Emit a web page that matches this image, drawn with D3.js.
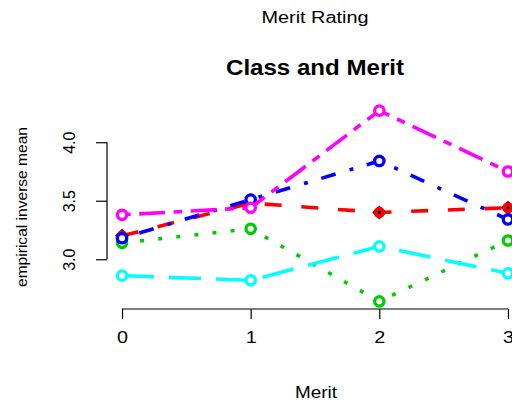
<!DOCTYPE html>
<html>
<head>
<meta charset="utf-8">
<script src="https://cdn.jsdelivr.net/npm/d3@7"></script>
<style>
  html, body { margin: 0; padding: 0; background: #fff; overflow: hidden; }
  text { font-family: "Liberation Sans", Arial, Helvetica, sans-serif; fill: #000; }
</style>
</head>
<body>
<script>
// ---- data ----
const merit = [0, 1, 2, 3];
const xTickLabels = ["0", "1", "2", "3"];
const yTickValues = [3.0, 3.5, 4.0];
const seriesNames = ["red", "green", "cyan", "blue", "magenta"];
const seriesRed     = [3.20, 3.48, 3.40, 3.44];
const seriesGreen   = [3.14, 3.26, 2.64, 3.16];
const seriesCyan    = [2.86, 2.82, 3.11, 2.88];
const seriesBlue    = [3.18, 3.51, 3.84, 3.34];
const seriesMagenta = [3.38, 3.44, 4.27, 3.75];

const series = [
  { name: "red",     values: seriesRed,     color: "#FF0000", dash: "17 19.7",          marker: "diamond" },
  { name: "green",   values: seriesGreen,   color: "#00CD00", dash: "4 14.2",           marker: "circle" },
  { name: "cyan",    values: seriesCyan,    color: "#00FFFF", dash: "32 15",            marker: "circle" },
  { name: "blue",    values: seriesBlue,    color: "#0000FF", dash: "4 14 15 14.5",     marker: "circle" },
  { name: "magenta", values: seriesMagenta, color: "#FF00FF", dash: "8.6 8.6 25.8 8.6", marker: "circle" }
];

const W = 512, H = 404;
const svg = d3.select("body").append("svg").attr("width", W).attr("height", H);

// plot region (R-style 4% padding)
const allVals = series.flatMap(s => s.values);
const ymin = d3.min(allVals), ymax = d3.max(allVals);
const ypad = (ymax - ymin) * 0.04;
const x = d3.scaleLinear().domain([-0.12, 3.12]).range([106.6, 523.4]);
const y = d3.scaleLinear().domain([ymin - ypad, ymax + ypad]).range([309, 103]);

// y axis
const yAxis = svg.append("g").attr("transform", "translate(107,0)")
  .call(d3.axisLeft(y).tickValues(yTickValues).tickSize(11).tickSizeOuter(0).tickFormat(d3.format(".1f")));
yAxis.select(".domain").attr("d", `M0,${y(3.0)}V${y(4.0)}`).attr("stroke", "#000").attr("stroke-width", 1.2);
yAxis.selectAll(".tick line").attr("stroke", "#000").attr("stroke-width", 1.2);
yAxis.selectAll(".tick text")
  .attr("x", null).attr("dy", null).attr("y", 0)
  .attr("transform", "translate(-32,0) rotate(-90)")
  .attr("text-anchor", "middle")
  .style("font-size", "16px")
  .style("font-family", "'Liberation Sans', Arial, sans-serif")
  .attr("fill", "#000");

// x axis
const xAxis = svg.append("g").attr("transform", "translate(0,309)")
  .call(d3.axisBottom(x).tickValues(merit).tickSize(10).tickSizeOuter(0).tickFormat((d, i) => xTickLabels[i]));
xAxis.select(".domain").attr("d", `M${x(0)},0H${x(3)}`).attr("stroke", "#000").attr("stroke-width", 1.2);
xAxis.selectAll(".tick line").attr("stroke", "#000").attr("stroke-width", 1.2);
xAxis.selectAll(".tick text")
  .attr("y", 34).attr("dy", null)
  .attr("text-anchor", "middle")
  .attr("textLength", 11).attr("lengthAdjust", "spacingAndGlyphs")
  .style("font-size", "16px")
  .style("font-family", "'Liberation Sans', Arial, sans-serif")
  .attr("fill", "#000");

// lines and markers
const line = d3.line().x((d, i) => x(merit[i])).y(d => y(d));
series.forEach(s => {
  const g = svg.append("g");
  g.append("path").datum(s.values)
    .attr("d", line).attr("fill", "none")
    .attr("stroke", s.color).attr("stroke-width", 3.6)
    .attr("stroke-dasharray", s.dash).attr("stroke-linecap", "butt");
  s.values.forEach((v, i) => {
    const cx = x(merit[i]), cy = y(v);
    if (s.marker === "diamond") {
      const r = 7;
      g.append("path").attr("d", `M${cx},${cy - r}L${cx + r},${cy}L${cx},${cy + r}L${cx - r},${cy}Z`).attr("fill", "#000");
      g.append("circle").attr("cx", cx).attr("cy", cy).attr("r", 5.6).attr("fill", s.color);
      g.append("circle").attr("cx", cx).attr("cy", cy).attr("r", 1.6).attr("fill", "#000");
    } else {
      g.append("circle").attr("cx", cx).attr("cy", cy).attr("r", 4.7)
        .attr("fill", "#fff").attr("stroke", s.color).attr("stroke-width", 3.3);
    }
  });
});

// titles and labels
svg.append("text").attr("x", 315).attr("y", 23).attr("text-anchor", "middle")
  .attr("textLength", 107).attr("lengthAdjust", "spacingAndGlyphs")
  .style("font-size", "16px").text("Merit Rating");
svg.append("text").attr("x", 315).attr("y", 75).attr("text-anchor", "middle")
  .attr("textLength", 178).attr("lengthAdjust", "spacingAndGlyphs")
  .style("font-size", "22px").style("font-weight", "bold").text("Class and Merit");
svg.append("text").attr("x", 316).attr("y", 398).attr("text-anchor", "middle")
  .attr("textLength", 42).attr("lengthAdjust", "spacingAndGlyphs")
  .style("font-size", "16px").text("Merit");
svg.append("text").attr("transform", "translate(27,207) rotate(-90)").attr("text-anchor", "middle")
  .attr("textLength", 160).attr("lengthAdjust", "spacingAndGlyphs")
  .style("font-size", "15px").text("empirical inverse mean");
</script>
</body>
</html>
